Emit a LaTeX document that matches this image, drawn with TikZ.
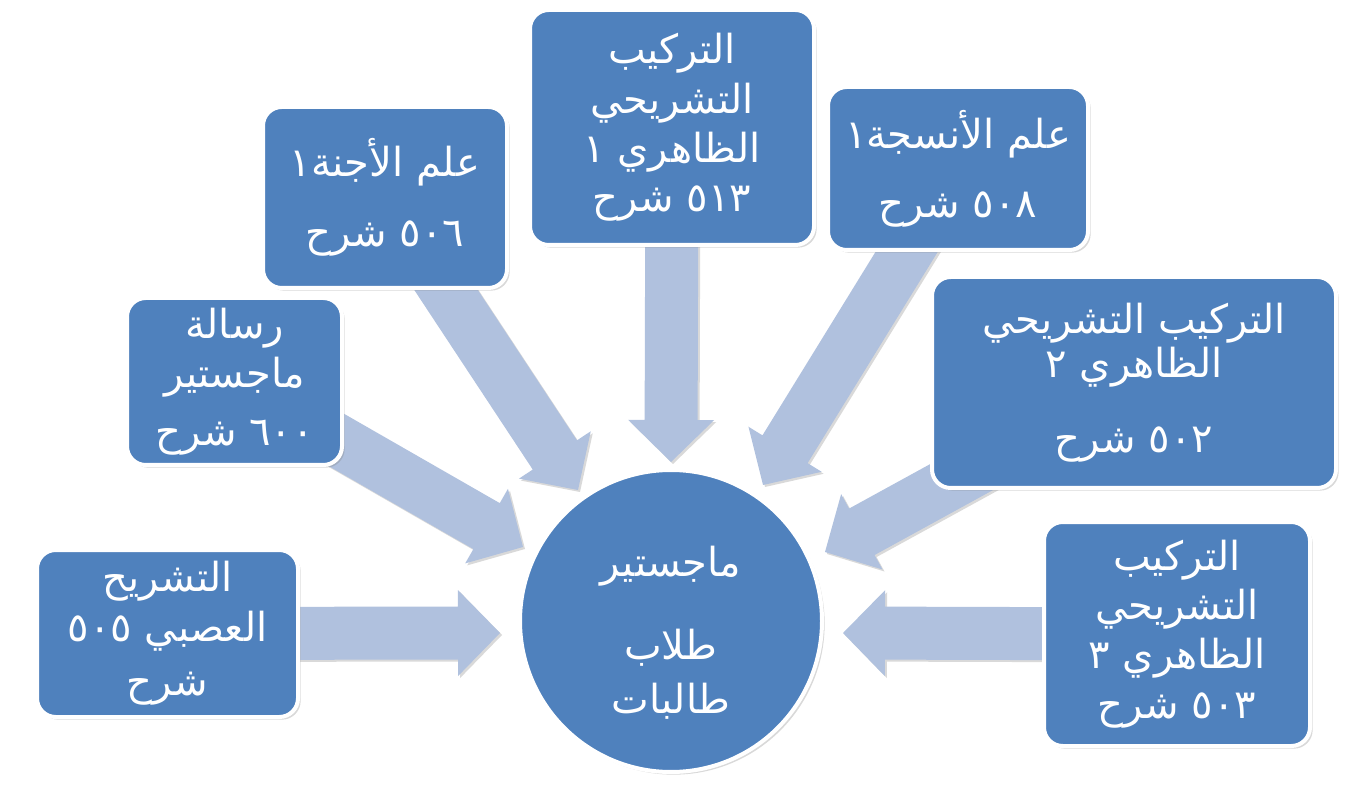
\documentclass[tikz,border=0pt]{standalone}
\usepackage{fontspec}
\newfontfamily\arabicfont[Script=Arabic]{DejaVu Sans}
\TeXXeTstate=1
\usetikzlibrary{calc,shadows}
\definecolor{boxblue}{RGB}{79,129,189}
\definecolor{arrowblue}{RGB}{176,193,222}
\newcommand{\ar}[1]{\beginR #1\endR}
\newcommand{\dg}[1]{\beginL #1\endL{}}
\pgfdeclarelayer{bg}
\pgfsetlayers{bg,main}
\tikzset{
  box/.style={draw=white, line width=3pt, fill=boxblue, rounded corners=14pt,
    inner sep=2pt, align=center, text=white,
    font=\arabicfont\fontsize{30}{37}\selectfont,
    drop shadow={shadow xshift=2pt, shadow yshift=-2pt, opacity=0.3}},
  hub/.style={circle, draw=white, line width=3pt, fill=boxblue, inner sep=0pt,
    minimum size=226.5pt,
    drop shadow={shadow xshift=2pt, shadow yshift=-2pt, opacity=0.3}},
  hubtext/.style={align=center, text=white, inner sep=0pt,
    font=\arabicfont\fontsize{30}{37}\selectfont},
  arrowfill/.style={fill=arrowblue},
  arrowshade/.style={fill=black, opacity=0.15}
}
% block arrow from the centre of node #1 to tip coordinate #2
\newcommand{\blockarrow}[2]{%
  \coordinate (#2-h) at ($(#2)!31.5pt!(#1.center)$);
  \begin{pgfonlayer}{bg}
  \begin{scope}[transform canvas={shift={(1.5pt,-1.5pt)}}]
  \fill[arrowshade] (#2) -- ($(#2-h)!32.25pt!90:(#2)$) -- ($(#2-h)!19.875pt!90:(#2)$)
    -- ($(#1.center)!19.875pt!90:(#2)$) -- ($(#1.center)!19.875pt!-90:(#2)$)
    -- ($(#2-h)!19.875pt!-90:(#2)$) -- ($(#2-h)!32.25pt!-90:(#2)$) -- cycle;
  \end{scope}
  \fill[arrowfill] (#2) -- ($(#2-h)!32.25pt!90:(#2)$) -- ($(#2-h)!19.875pt!90:(#2)$)
    -- ($(#1.center)!19.875pt!90:(#2)$) -- ($(#1.center)!19.875pt!-90:(#2)$)
    -- ($(#2-h)!19.875pt!-90:(#2)$) -- ($(#2-h)!32.25pt!-90:(#2)$) -- cycle;
  \end{pgfonlayer}%
}
\begin{document}
\begin{tikzpicture}[x=0.75pt, y=-0.75pt]
\useasboundingbox (0,0) rectangle (1350,798);

% hub
\node[hub] (hub) at (671,621) {};
\node[hubtext] (hubtxt) at (671,633) {\ar{ماجستير}\\[25pt]\ar{طلاب}\\[4pt]\ar{طالبات}};

% boxes
\node[box, minimum width=183pt, minimum height=135.75pt] (ajinna) at (385,197.5)
  {\ar{علم الأجنة١}\\[16pt]\ar{\dg{٥٠٦} شرح}\\[-29.5pt]{}};
\node[box, minimum width=213pt, minimum height=176.25pt] (tark1) at (672,127.5)
  {\ar{التركيب}\\\ar{التشريحي}\\\ar{الظاهري ١}\\\ar{\dg{٥١٣} شرح}};
\node[box, minimum width=195pt, minimum height=122.25pt] (ansija) at (958,168.5)
  {\ar{علم الأنسجة١}\\[15pt]\ar{\dg{٥٠٨} شرح}};
\node[box, minimum width=303pt, minimum height=158.25pt] (tark2) at (1134,382.5)
  {\ar{التركيب التشريحي}\\[-4pt]\ar{الظاهري ٢}\\[19pt]\ar{\dg{٥٠٢} شرح}};
\node[box, minimum width=161.25pt, minimum height=125.25pt] (risala) at (234.5,381.5)
  {\ar{رسالة}\\\ar{ماجستير}\\[6pt]\ar{\dg{٦٠٠} شرح}};
\node[box, minimum width=195.75pt, minimum height=125.25pt] (neuro) at (167.5,633.5)
  {\ar{التشريح}\\\ar{العصبي \dg{٥٠٥}}\\[4pt]\ar{شرح}};
\node[box, minimum width=199.5pt, minimum height=168pt] (tark3) at (1177,634)
  {\ar{التركيب}\\\ar{التشريحي}\\\ar{الظاهري ٣}\\\ar{\dg{٥٠٣} شرح}};

% arrow tips
\coordinate (tipNeuro) at (500,633);
\coordinate (tipRisala) at (523,547);
\coordinate (tipAjinna) at (578,490);
\coordinate (tipTark1) at (671,462);
\coordinate (tipAnsija) at (763,485);
\coordinate (tipTark2) at (825,552);
\coordinate (tipTark3) at (843,633);

\blockarrow{neuro}{tipNeuro}
\blockarrow{risala}{tipRisala}
\blockarrow{ajinna}{tipAjinna}
\blockarrow{tark1}{tipTark1}
\blockarrow{ansija}{tipAnsija}
\blockarrow{tark2}{tipTark2}
\blockarrow{tark3}{tipTark3}
\end{tikzpicture}
\end{document}
